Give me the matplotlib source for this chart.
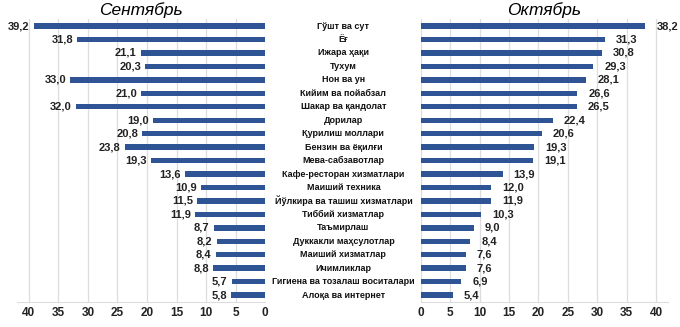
import matplotlib
matplotlib.use("Agg")
import matplotlib.pyplot as plt

plt.rcParams['font.family'] = ['Liberation Sans', 'DejaVu Sans']

# Маълумотлар
toifalar = ["Гўшт ва сут", "Ёғ", "Ижара ҳақи", "Тухум", "Нон ва ун",
            "Кийим ва пойабзал", "Шакар ва қандолат", "Дорилар",
            "Қурилиш моллари", "Бензин ва ёқилғи", "Мева-сабзавотлар",
            "Кафе-ресторан хизматлари", "Маиший техника",
            "Йўлкира ва ташиш хизматлари", "Тиббий хизматлар", "Таъмирлаш",
            "Дуккакли маҳсулотлар", "Маиший хизматлар", "Ичимликлар",
            "Гигиена ва тозалаш воситалари", "Алоқа ва интернет"]
sentyabr = [39.2, 31.8, 21.1, 20.3, 33.0, 21.0, 32.0, 19.0, 20.8, 23.8, 19.3,
            13.6, 10.9, 11.5, 11.9, 8.7, 8.2, 8.4, 8.8, 5.7, 5.8]
oktyabr = [38.2, 31.3, 30.8, 29.3, 28.1, 26.6, 26.5, 22.4, 20.6, 19.3, 19.1,
           13.9, 12.0, 11.9, 10.3, 9.0, 8.4, 7.6, 7.6, 6.9, 5.4]
tiklar = [0, 5, 10, 15, 20, 25, 30, 35, 40]

rang = '#2F5496'
y = list(range(len(toifalar)))

fig = plt.figure(figsize=(6.8, 3.27), dpi=100)
chap = fig.add_axes([0.025, 0.077, 0.365, 0.864])
ong = fig.add_axes([0.619, 0.077, 0.363, 0.864])


def bezak(ax):
    ax.set_xlim(0, 42)
    ax.set_ylim(len(toifalar) - 0.5, -0.5)
    ax.set_xticks(tiklar)
    ax.set_xticklabels([str(t) for t in tiklar], fontsize=8.5,
                       fontweight='bold', color='#222222')
    ax.set_yticks([])
    ax.tick_params(axis='x', length=0, pad=4)
    ax.grid(axis='x', color='#DDDDDD', linewidth=0.9)
    ax.set_axisbelow(True)
    for s in ['top', 'left', 'right']:
        ax.spines[s].set_visible(False)
    ax.spines['bottom'].set_color('#DDDDDD')


bezak(chap)
bezak(ong)
chap.invert_xaxis()

chap.barh(y, sentyabr, height=0.4, color=rang)
ong.barh(y, oktyabr, height=0.4, color=rang)

for i, v in enumerate(sentyabr):
    chap.annotate(f"{v:.1f}".replace('.', ','), (v, i), xytext=(-3, 0),
                  textcoords='offset points', ha='right', va='center',
                  fontsize=8, fontweight='bold', color='#222222')
for i, v in enumerate(oktyabr):
    ong.annotate(f"{v:.1f}".replace('.', ','), (v, i), xytext=(8, 0),
                 textcoords='offset points', ha='left', va='center',
                 fontsize=8, fontweight='bold', color='#222222')

chap.set_title("Сентябрь", fontsize=12.5, style='italic', pad=3)
ong.set_title("Октябрь", fontsize=12.5, style='italic', pad=3)

# Ўртадаги номлар
for i, nom in enumerate(toifalar):
    yy = chap.transData.transform((0, i))[1]
    fy = fig.transFigure.inverted().transform((0, yy))[1]
    fig.text(0.505, fy, nom, ha='center', va='center', fontsize=6.5,
             fontweight='bold', color='#111111')

fig.savefig("out.png", dpi=100)
